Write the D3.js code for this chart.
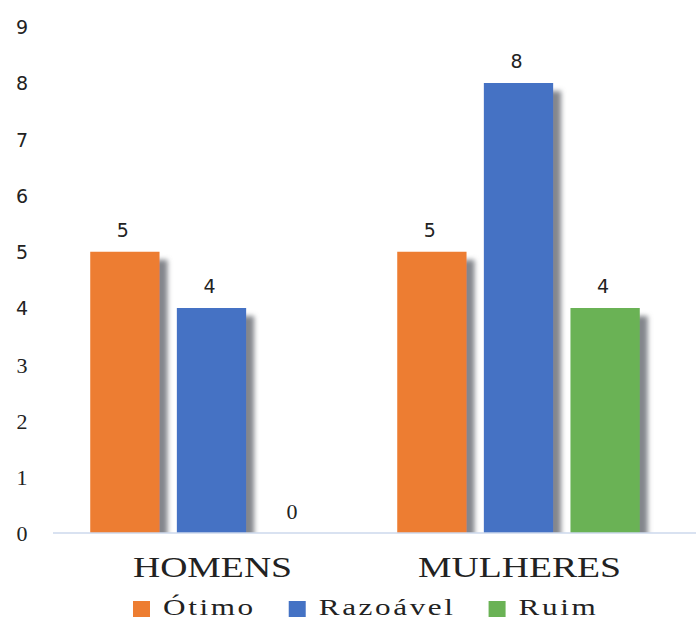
<!DOCTYPE html>
<html>
<head>
<meta charset="utf-8">
<script src="https://cdn.jsdelivr.net/npm/d3@7/dist/d3.min.js"></script>
<style>
  html, body { margin: 0; padding: 0; background: #ffffff; }
  svg { display: block; }
  .serif { font-family: "Liberation Serif", "Times New Roman", Times, "DejaVu Serif", serif; }
  .sans { font-family: "DejaVu Sans", "Liberation Sans", sans-serif; }
</style>
</head>
<body>
<svg id="chart" width="696" height="620"></svg>
<script>
// Categories, series and values
const categories = ["HOMENS", "MULHERES"];
const seriesNames = ["Ótimo", "Razoável", "Ruim"];
const otimo = [5, 5];
const razoavel = [4, 8];
const ruim = [0, 4];
const yTicks = [0, 1, 2, 3, 4, 5, 6, 7, 8, 9];
const colors = ["#ED7D31", "#4472C4", "#6AB255"];

const seriesValues = [otimo, razoavel, ruim];
const rows = categories.map((c, i) => ({
  category: c,
  values: seriesNames.map((s, j) => ({ series: s, idx: j, value: seriesValues[j][i] }))
}));

const svg = d3.select("#chart");
const W = 696, H = 620;
const plot = { left: 58, right: 672, top: 27, bottom: 533 };

const y = d3.scaleLinear().domain([0, 8]).range([plot.bottom, plot.bottom - 8 * 56.25]);
const x0 = d3.scaleBand().domain(categories).range([plot.left, plot.right])
  .paddingInner(0.21).paddingOuter(0.105);
const x1 = d3.scaleBand().domain(seriesNames).range([0, x0.bandwidth()]).paddingInner(0.2);

// Drop shadow behind the bars
const defs = svg.append("defs");
const f = defs.append("filter").attr("id", "shadow")
  .attr("x", "-20%").attr("y", "-20%").attr("width", "160%").attr("height", "160%");
f.append("feGaussianBlur").attr("in", "SourceAlpha").attr("stdDeviation", 2.6).attr("result", "blur");
f.append("feOffset").attr("in", "blur").attr("dx", 8).attr("dy", 8).attr("result", "off");
f.append("feFlood").attr("flood-color", "#7d8086").attr("flood-opacity", 0.95).attr("result", "col");
f.append("feComposite").attr("in", "col").attr("in2", "off").attr("operator", "in").attr("result", "sh");
const m = f.append("feMerge");
m.append("feMergeNode").attr("in", "sh");
m.append("feMergeNode").attr("in", "SourceGraphic");

defs.append("clipPath").attr("id", "plotClip")
  .append("rect").attr("x", 0).attr("y", 0).attr("width", W).attr("height", plot.bottom);

// Y axis labels (no line, no ticks)
const yAxis = d3.axisLeft(y).tickValues(yTicks).tickSize(0).tickPadding(0).tickFormat(d3.format("d"));
const gy = svg.append("g").attr("transform", "translate(22,0)").call(yAxis)
  .attr("font-family", null).attr("font-size", null);
gy.select(".domain").remove();
gy.selectAll("text")
  .attr("class", d => d <= 3 ? "serif" : "sans")
  .attr("text-anchor", "middle")
  .attr("dy", "0.36em")
  .attr("font-size", d => d <= 3 ? 22 : 19)
  .attr("fill", "#222");

// Bars
const barLayer = svg.append("g").attr("clip-path", "url(#plotClip)");
const groups = barLayer.selectAll("g.cat").data(rows).join("g")
  .attr("class", "cat")
  .attr("transform", d => `translate(${x0(d.category)},0)`);

groups.selectAll("rect").data(d => d.values.filter(v => v.value > 0)).join("rect")
  .attr("x", d => x1(d.series))
  .attr("width", x1.bandwidth())
  .attr("y", d => y(d.value))
  .attr("height", d => y(0) - y(d.value))
  .attr("fill", d => colors[d.idx])
  .attr("filter", "url(#shadow)");

// Baseline
svg.append("line")
  .attr("x1", 53).attr("x2", W)
  .attr("y1", y(0)).attr("y2", y(0))
  .attr("stroke", "#cdd8ec").attr("stroke-width", 1.5);

// Value labels
const labelGroups = svg.selectAll("g.lbl").data(rows).join("g")
  .attr("class", "lbl")
  .attr("transform", d => `translate(${x0(d.category)},0)`);
labelGroups.selectAll("text").data(d => d.values).join("text")
  .attr("class", d => d.value === 0 ? "serif" : "sans")
  .attr("x", d => x1(d.series) + x1.bandwidth() / 2 - (d.value === 0 ? 6 : 2))
  .attr("y", d => y(d.value) - 22)
  .attr("dy", "0.36em")
  .attr("text-anchor", "middle")
  .attr("font-size", d => d.value === 0 ? 22 : 19)
  .attr("fill", "#222")
  .text(d => d.value);

// Category labels (wide serif lettering)
svg.selectAll("text.catlabel").data(categories).join("text")
  .attr("class", "catlabel serif")
  .attr("transform", d => `translate(${x0(d) + x0.bandwidth() / 2 + 1},577) scale(1.3,1)`)
  .attr("text-anchor", "middle")
  .attr("font-size", 29)
  .attr("fill", "#222")
  .text(d => d);

// Legend
const legendScale = 1.3;
const legend = svg.append("g").attr("transform", "translate(133,0)");
let lx = 0;
seriesNames.forEach((s, i) => {
  const g = legend.append("g").attr("transform", `translate(${lx},0)`);
  g.append("rect").attr("x", 0).attr("y", 601).attr("width", 17).attr("height", 16).attr("fill", colors[i]);
  const t = g.append("text")
    .attr("class", "serif")
    .attr("transform", `translate(30,615) scale(${legendScale},1)`)
    .attr("font-size", 24)
    .attr("letter-spacing", 2)
    .attr("fill", "#222")
    .text(s);
  lx += 30 + t.node().getComputedTextLength() * legendScale + 33;
});
</script>
</body>
</html>
